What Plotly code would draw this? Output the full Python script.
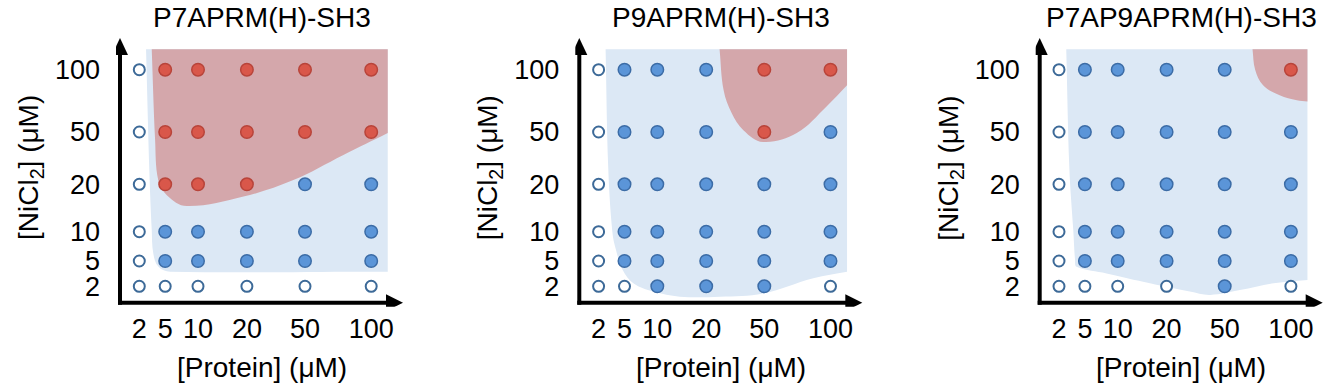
import numpy as np
import plotly.graph_objects as go

# ---------------- data ----------------
protein_uM = [2, 5, 10, 20, 50, 100]
nicl2_uM = [2, 5, 10, 20, 50, 100]
tick_labels = ["2", "5", "10", "20", "50", "100"]
panel_titles = ["P7APRM(H)-SH3", "P9APRM(H)-SH3", "P7AP9APRM(H)-SH3"]

# observed state, rows = [NiCl2] 2..100 uM, columns = [Protein] 2..100 uM
# 0 = no assembly (open), 1 = assembly (blue), 2 = phase separation (red)
p7a_state = [
    [0, 0, 0, 0, 0, 0],
    [0, 1, 1, 1, 1, 1],
    [0, 1, 1, 1, 1, 1],
    [0, 2, 2, 2, 1, 1],
    [0, 2, 2, 2, 2, 2],
    [0, 2, 2, 2, 2, 2],
]
p9a_state = [
    [0, 0, 1, 1, 1, 0],
    [0, 1, 1, 1, 1, 1],
    [0, 1, 1, 1, 1, 1],
    [0, 1, 1, 1, 1, 1],
    [0, 1, 1, 1, 2, 1],
    [0, 1, 1, 1, 2, 2],
]
p7ap9a_state = [
    [0, 0, 0, 0, 1, 0],
    [0, 1, 1, 1, 1, 1],
    [0, 1, 1, 1, 1, 1],
    [0, 1, 1, 1, 1, 1],
    [0, 1, 1, 1, 1, 1],
    [0, 1, 1, 1, 1, 2],
]

# phase-boundary curves, in concentration-grid units
# (0 = 2 uM, 1 = 5 uM, ... 5 = 100 uM; fractional = between measured levels).
# Each shaded region is closed along the top/right edge of the shaded box.
REGION_RIGHT, REGION_TOP = 5.25, 5.33

p7a_blue_protein = [0.26, 0.39, 0.48, 0.54, 0.74, 1.15, 4.90, 5.25]
p7a_blue_nicl2 = [5.33, 3.22, 2.04, 1.26, 0.77, 0.58, 0.58, 0.58]
p7a_red_protein = [0.48, 0.61, 0.73, 1.05, 1.66, 2.93, 3.80, 4.58, 5.25]
p7a_red_nicl2 = [5.33, 3.85, 3.08, 2.77, 2.54, 2.74, 3.08, 3.56, 3.98]

p9a_blue_protein = [0.27, 0.37, 0.53, 0.67, 0.93, 1.27, 1.88, 2.46, 3.24, 3.98, 4.74, 5.25]
p9a_blue_nicl2 = [5.33, 3.34, 2.00, 1.38, 0.64, 0.12, -0.21, -0.41, -0.41, -0.28, 0.32, 0.58]
p9a_red_protein = [3.23, 3.30, 3.44, 3.64, 3.98, 4.49, 4.94, 5.25]
p9a_red_nicl2 = [5.33, 4.67, 4.30, 4.03, 3.81, 3.98, 4.41, 4.75]

p7ap9a_blue_protein = [0.28, 0.40, 0.55, 0.62, 0.68, 1.66, 2.66, 3.40, 3.75, 4.23, 4.74, 5.25]
p7ap9a_blue_nicl2 = [5.33, 3.30, 2.04, 1.03, 0.77, 0.51, 0.12, -0.21, -0.34, -0.15, 0.12, 0.25]
p7ap9a_red_protein = [4.42, 4.46, 4.58, 4.83, 5.09, 5.25]
p7ap9a_red_nicl2 = [5.33, 5.00, 4.75, 4.59, 4.51, 4.49]

# ---------------- layout / style ----------------
W, H = 1328, 387
X_TICK_POS = [19.3, 45.2, 78.0, 126.9, 185.0, 251.2]   # axis units (1 unit = 1 px)
Y_TICK_POS = [16.4, 41.7, 71.0, 118.4, 170.7, 233.0]
ORIGINS_X = [120.0, 579.3, 1039.7]
ORIGIN_Y = 302.7
X_LEN, Y_LEN = 283.0, 264.7
PAD = 4.0

FONT = "Liberation Sans, Arial, Helvetica, sans-serif"
FS_TICK = 27
FS_TITLE = 28
BLUE_REGION = "#dce8f5"
RED_REGION = "#d4a7ab"
BLUE_FILL, BLUE_EDGE = "#5b95d8", "#3c6ca6"
RED_FILL, RED_EDGE = "#d9574a", "#b8443a"
OPEN_EDGE = "#3d6a98"


def grid_to_axis(g, pos):
    g = np.asarray(g, float)
    n = len(pos)
    out = np.interp(g, np.arange(n), pos)
    lo = g < 0
    out[lo] = pos[0] + g[lo] * (pos[1] - pos[0])
    hi = g > n - 1
    out[hi] = pos[-1] + (g[hi] - (n - 1)) * (pos[-1] - pos[-2])
    return out


def region_path(gx, gy, s=0.36):
    """Smooth boundary through the given vertices, closed along the box edge."""
    P = np.column_stack([grid_to_axis(gx, X_TICK_POS), grid_to_axis(gy, Y_TICK_POS)])
    n = len(P)
    T = np.zeros_like(P)
    for i in range(n):
        d = P[min(i + 1, n - 1)] - P[max(i - 1, 0)]
        T[i] = d / np.hypot(*d)
    path = f"M {P[0,0]:.2f},{P[0,1]:.2f}"
    for i in range(n - 1):
        L = np.hypot(*(P[i + 1] - P[i]))
        c1 = P[i] + T[i] * L * s
        c2 = P[i + 1] - T[i + 1] * L * s
        path += (f" C {c1[0]:.2f},{c1[1]:.2f} {c2[0]:.2f},{c2[1]:.2f}"
                 f" {P[i+1,0]:.2f},{P[i+1,1]:.2f}")
    cx = grid_to_axis([REGION_RIGHT], X_TICK_POS)[0]
    cy = grid_to_axis([REGION_TOP], Y_TICK_POS)[0]
    path += f" L {cx:.2f},{cy:.2f} Z"
    return path


panels = [
    (p7a_state, (p7a_blue_protein, p7a_blue_nicl2), (p7a_red_protein, p7a_red_nicl2)),
    (p9a_state, (p9a_blue_protein, p9a_blue_nicl2), (p9a_red_protein, p9a_red_nicl2)),
    (p7ap9a_state, (p7ap9a_blue_protein, p7ap9a_blue_nicl2), (p7ap9a_red_protein, p7ap9a_red_nicl2)),
]

fig = go.Figure()
shapes = []
annotations = []
layout_axes = {}

for k, (state, blue, red) in enumerate(panels):
    sfx = "" if k == 0 else str(k + 1)
    xa, ya = "x" + sfx, "y" + sfx
    ox = ORIGINS_X[k]

    # shaded phase regions
    for (gx, gy), col in ((blue, BLUE_REGION), (red, RED_REGION)):
        shapes.append(dict(type="path", xref=xa, yref=ya, path=region_path(gx, gy),
                           fillcolor=col, line=dict(width=0), layer="below"))

    # measured points
    groups = {0: ([], []), 1: ([], []), 2: ([], [])}
    for i, ni in enumerate(nicl2_uM):
        for j, pr in enumerate(protein_uM):
            s = state[i][j]
            groups[s][0].append(grid_to_axis([protein_uM.index(pr)], X_TICK_POS)[0])
            groups[s][1].append(grid_to_axis([nicl2_uM.index(ni)], Y_TICK_POS)[0])
    styles = {
        0: dict(size=11, color="white", line=dict(color=OPEN_EDGE, width=2)),
        1: dict(size=12.5, color=BLUE_FILL, line=dict(color=BLUE_EDGE, width=1.5)),
        2: dict(size=12.5, color=RED_FILL, line=dict(color=RED_EDGE, width=1.5)),
    }
    for s in (0, 1, 2):
        if groups[s][0]:
            fig.add_trace(go.Scatter(x=groups[s][0], y=groups[s][1], mode="markers",
                                     marker=styles[s], showlegend=False,
                                     hoverinfo="skip", xaxis=xa, yaxis=ya))

    # axes
    x_dom = [(ox - PAD) / W, (ox + X_LEN + 1) / W]
    y_dom = [(H - (ORIGIN_Y + PAD)) / H, (H - (ORIGIN_Y - Y_LEN - 1)) / H]
    common = dict(showgrid=False, zeroline=False, showline=False, ticks="",
                  tickfont=dict(family=FONT, size=FS_TICK, color="black"),
                  fixedrange=True)
    layout_axes["xaxis" + sfx] = dict(common, domain=x_dom, range=[-PAD, X_LEN + 1],
                                      tickmode="array", tickvals=X_TICK_POS,
                                      ticktext=tick_labels, anchor=ya,
                                      ticklabelstandoff=3)
    layout_axes["yaxis" + sfx] = dict(common, domain=y_dom, range=[-PAD, Y_LEN + 1],
                                      tickmode="array", tickvals=Y_TICK_POS,
                                      ticktext=tick_labels, anchor=xa,
                                      ticklabelstandoff=15)

    # axis lines with arrowheads
    shapes.append(dict(type="line", xref=xa, yref=ya, x0=-2, y0=0, x1=X_LEN - 14, y1=0,
                       line=dict(color="black", width=4), layer="above"))
    shapes.append(dict(type="line", xref=xa, yref=ya, x0=0, y0=-2, x1=0, y1=Y_LEN - 14,
                       line=dict(color="black", width=4), layer="above"))
    shapes.append(dict(type="path", xref=xa, yref=ya,
                       path=f"M {X_LEN} 0 L {X_LEN-17} 8.5 L {X_LEN-17} -8.5 Z",
                       fillcolor="black", line=dict(width=0), layer="above"))
    shapes.append(dict(type="path", xref=xa, yref=ya,
                       path=f"M 0 {Y_LEN} L -8 {Y_LEN-17} L 8 {Y_LEN-17} Z",
                       fillcolor="black", line=dict(width=0), layer="above"))

    # titles
    annotations.append(dict(text=panel_titles[k], x=(ox + 142) / W, y=(H - 18) / H,
                            xref="paper", yref="paper", xanchor="center", yanchor="middle",
                            showarrow=False, font=dict(family=FONT, size=FS_TITLE, color="black")))
    annotations.append(dict(text="[Protein] (μM)", x=(ox + 141.5) / W, y=(H - 367) / H,
                            xref="paper", yref="paper", xanchor="center", yanchor="middle",
                            showarrow=False, font=dict(family=FONT, size=FS_TITLE, color="black")))
    annotations.append(dict(text="[NiCl<sub>2</sub>] (μM)", x=(ox - 90) / W, y=(H - 168) / H,
                            xref="paper", yref="paper", xanchor="center", yanchor="middle",
                            textangle=-90, showarrow=False,
                            font=dict(family=FONT, size=FS_TITLE, color="black")))

fig.update_layout(
    width=W, height=H, autosize=False,
    margin=dict(l=0, r=0, t=0, b=0),
    paper_bgcolor="white", plot_bgcolor="rgba(0,0,0,0)",
    shapes=shapes, annotations=annotations, showlegend=False,
    **layout_axes,
)

fig.write_html("out.html", config={"displayModeBar": False},
               post_script="document.body.style.margin='0px';")
